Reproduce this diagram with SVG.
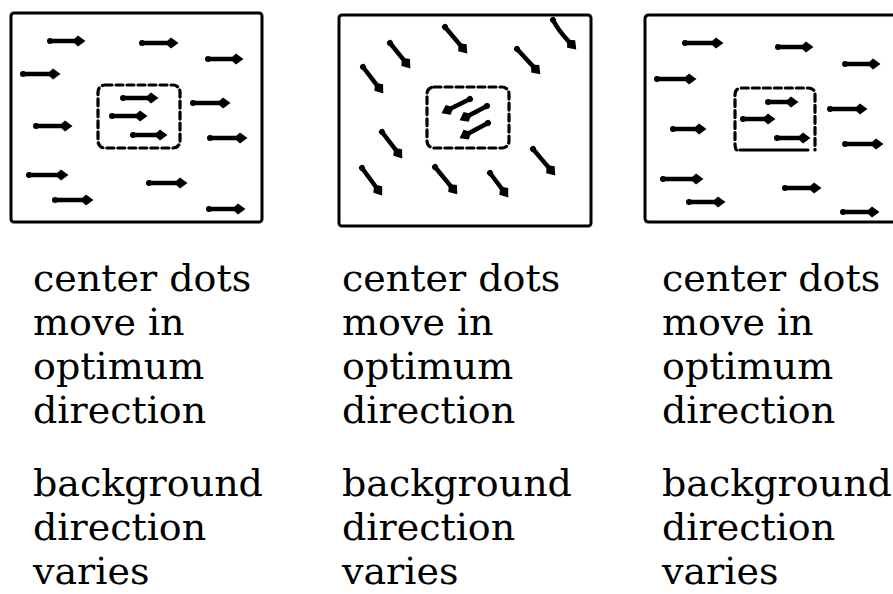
<svg xmlns="http://www.w3.org/2000/svg" width="893" height="594" viewBox="0 0 893 594">
  <style>
    .frame { fill: none; stroke: #000; stroke-width: 3; stroke-linejoin: round; }
    .window { fill: none; stroke: #000; stroke-width: 3.2; stroke-dasharray: 7 4; stroke-linecap: round; }
    .solid { fill: none; stroke: #000; stroke-width: 3; stroke-linecap: round; }
    .dot { fill: none; stroke: #000; stroke-width: 4.5; stroke-linecap: round; marker-start: url(#tail); marker-end: url(#kite); }
    .label { font-family: "DejaVu Serif", "Liberation Serif", serif; font-size: 38px; fill: #000; }
  </style>
  <defs>
    <marker id="kite" markerUnits="userSpaceOnUse" viewBox="0 -7 15 14" markerWidth="15" markerHeight="14" refX="3" refY="0" orient="auto" overflow="visible">
      <path d="M0,0 L6,-5.5 L13.5,0 L6,5.5 Z" fill="#000"/>
    </marker>
    <marker id="tail" markerUnits="userSpaceOnUse" viewBox="-4 -4 8 8" markerWidth="8" markerHeight="8" refX="0" refY="0" orient="auto" overflow="visible">
      <circle cx="0" cy="0" r="3" fill="#000"/>
    </marker>
  </defs>

  <!-- left panel: uniform rightward motion -->
  <g id="panel-left">
    <rect class="frame" x="11" y="13" width="251" height="209" rx="3"/>
    <rect class="window" x="98" y="85" width="82" height="63" rx="7"/>
    <g id="dots-left">
      <path class="dot" d="M50,41 H75"/>
      <path class="dot" d="M142,43 H168"/>
      <path class="dot" d="M208,59 H233"/>
      <path class="dot" d="M23,74 H50"/>
      <path class="dot" d="M123,98 H148"/>
      <path class="dot" d="M193,103 H220"/>
      <path class="dot" d="M112,116 H137"/>
      <path class="dot" d="M36,126 H62"/>
      <path class="dot" d="M133,135 H157"/>
      <path class="dot" d="M210,138 H237"/>
      <path class="dot" d="M29,175 H58"/>
      <path class="dot" d="M149,183 H177"/>
      <path class="dot" d="M55,200 H83"/>
      <path class="dot" d="M209,209 H235"/>
    </g>
  </g>

  <!-- middle panel: diagonal background, center dots opposite -->
  <g id="panel-middle">
    <rect class="frame" x="339" y="15" width="252" height="211" rx="3"/>
    <rect class="window" x="427" y="87" width="82" height="61" rx="7"/>
    <g id="dots-middle">
      <path class="dot" d="M445,27 L460.5,45.4"/>
      <path class="dot" d="M553,20 Q558,30 569.1,41.9"/>
      <path class="dot" d="M390,43 L403.8,60.2"/>
      <path class="dot" d="M517,49 L533.2,66.6"/>
      <path class="dot" d="M363,67 L376.9,85.1"/>
      <path class="dot" d="M382,132 L395.9,150.1"/>
      <path class="dot" d="M533,149 L548.5,167.4"/>
      <path class="dot" d="M362,168 L376,187"/>
      <path class="dot" d="M435,167 L450.7,186.2"/>
      <path class="dot" d="M490,173 L502,189"/>
      <path class="dot" d="M470,99 L450.9,108.5"/>
      <path class="dot" d="M487,106 L468.9,115.4"/>
      <path class="dot" d="M488,123 L468.8,133.3"/>
    </g>
  </g>

  <!-- right panel: uniform rightward motion, frame runs off the edge -->
  <g id="panel-right">
    <path class="frame" d="M900,15 H649 Q645,15 645,19 V218 Q645,222 649,222 H900"/>
    <path class="window" d="M737,150 Q735,150 735,143 V95 Q735,88 742,88 H808 Q815,88 815,95 V150"/>
    <path class="solid" d="M740,150 H808"/>
    <g id="dots-right">
      <path class="dot" d="M685,43 H713"/>
      <path class="dot" d="M778,47 H803"/>
      <path class="dot" d="M845,64 H870"/>
      <path class="dot" d="M657,79 H686"/>
      <path class="dot" d="M768,102 H788"/>
      <path class="dot" d="M830,109 H857"/>
      <path class="dot" d="M743,119 H765"/>
      <path class="dot" d="M673,129 H696"/>
      <path class="dot" d="M777,138 H800"/>
      <path class="dot" d="M845,144 H873"/>
      <path class="dot" d="M663,179 H693"/>
      <path class="dot" d="M785,188 H811"/>
      <path class="dot" d="M689,202 H715"/>
      <path class="dot" d="M843,212 H869"/>
    </g>
  </g>

  <!-- captions -->
  <g id="caption-left" class="label">
    <text x="33" y="291">center dots</text>
    <text x="33" y="335">move in</text>
    <text x="33" y="379">optimum</text>
    <text x="33" y="423">direction</text>
    <text x="33" y="496">background</text>
    <text x="33" y="540">direction</text>
    <text x="33" y="584">varies</text>
  </g>
  <g id="caption-middle" class="label">
    <text x="342" y="291">center dots</text>
    <text x="342" y="335">move in</text>
    <text x="342" y="379">optimum</text>
    <text x="342" y="423">direction</text>
    <text x="342" y="496">background</text>
    <text x="342" y="540">direction</text>
    <text x="342" y="584">varies</text>
  </g>
  <g id="caption-right" class="label">
    <text x="662" y="291">center dots</text>
    <text x="662" y="335">move in</text>
    <text x="662" y="379">optimum</text>
    <text x="662" y="423">direction</text>
    <text x="662" y="496">background</text>
    <text x="662" y="540">direction</text>
    <text x="662" y="584">varies</text>
  </g>
</svg>
